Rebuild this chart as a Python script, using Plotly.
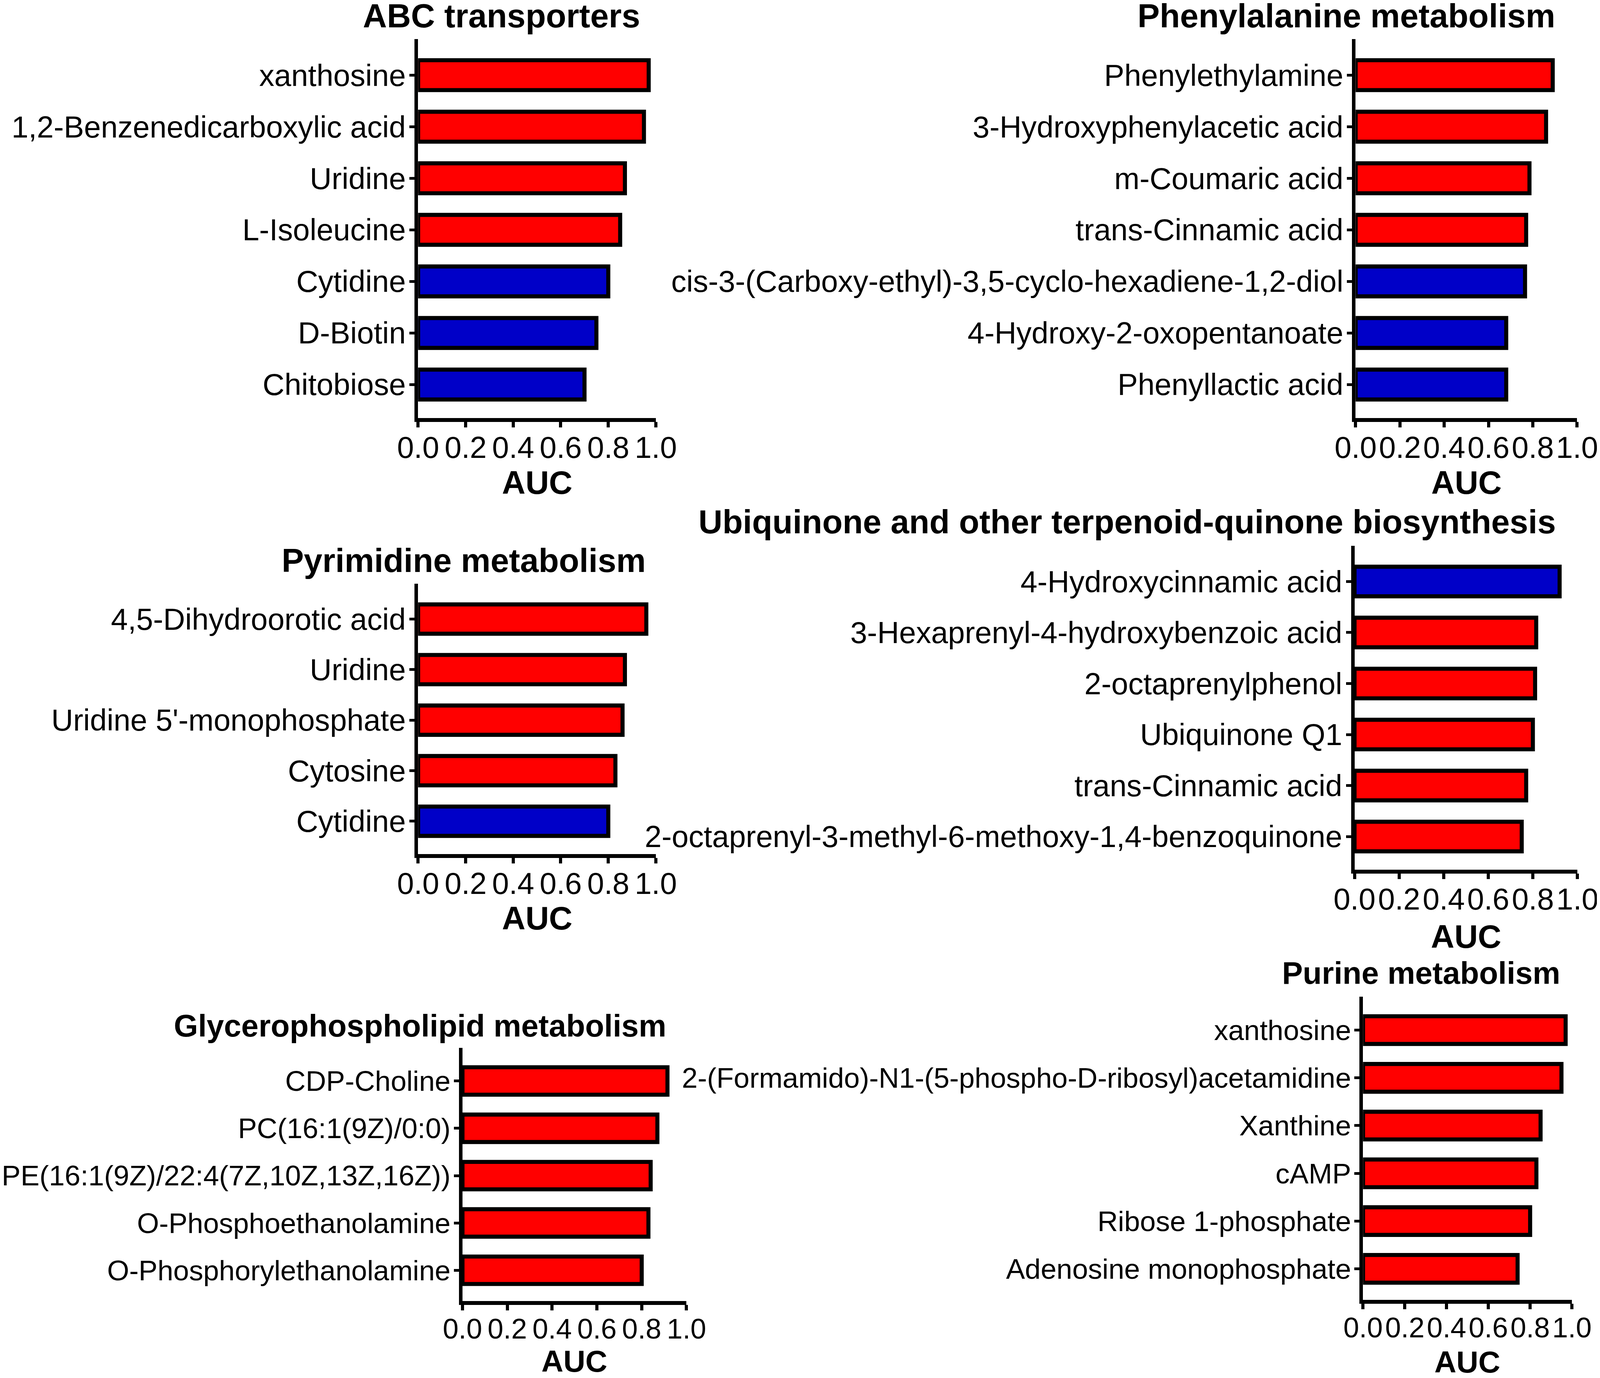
import plotly.graph_objects as go

# ---- data ----
abc_names = ["xanthosine", "1,2-Benzenedicarboxylic acid", "Uridine", "L-Isoleucine",
             "Cytidine", "D-Biotin", "Chitobiose"]
abc_auc = [0.97, 0.95, 0.87, 0.85, 0.80, 0.75, 0.70]
abc_dir = ["up", "up", "up", "up", "down", "down", "down"]

phe_names = ["Phenylethylamine", "3-Hydroxyphenylacetic acid", "m-Coumaric acid",
             "trans-Cinnamic acid", "cis-3-(Carboxy-ethyl)-3,5-cyclo-hexadiene-1,2-diol",
             "4-Hydroxy-2-oxopentanoate", "Phenyllactic acid"]
phe_auc = [0.89, 0.86, 0.785, 0.77, 0.765, 0.68, 0.68]
phe_dir = ["up", "up", "up", "up", "down", "down", "down"]

pyr_names = ["4,5-Dihydroorotic acid", "Uridine", "Uridine 5'-monophosphate",
             "Cytosine", "Cytidine"]
pyr_auc = [0.96, 0.87, 0.86, 0.83, 0.80]
pyr_dir = ["up", "up", "up", "up", "down"]

ubi_names = ["4-Hydroxycinnamic acid", "3-Hexaprenyl-4-hydroxybenzoic acid",
             "2-octaprenylphenol", "Ubiquinone Q1", "trans-Cinnamic acid",
             "2-octaprenyl-3-methyl-6-methoxy-1,4-benzoquinone"]
ubi_auc = [0.92, 0.815, 0.81, 0.80, 0.77, 0.75]
ubi_dir = ["down", "up", "up", "up", "up", "up"]

gly_names = ["CDP-Choline", "PC(16:1(9Z)/0:0)", "PE(16:1(9Z)/22:4(7Z,10Z,13Z,16Z))",
             "O-Phosphoethanolamine", "O-Phosphorylethanolamine"]
gly_auc = [0.915, 0.87, 0.84, 0.83, 0.80]
gly_dir = ["up", "up", "up", "up", "up"]

pur_names = ["xanthosine", "2-(Formamido)-N1-(5-phospho-D-ribosyl)acetamidine",
             "Xanthine", "cAMP", "Ribose 1-phosphate", "Adenosine monophosphate"]
pur_auc = [0.97, 0.95, 0.85, 0.83, 0.80, 0.74]
pur_dir = ["up", "up", "up", "up", "up", "up"]

auc_ticks = [0.0, 0.2, 0.4, 0.6, 0.8, 1.0]
auc_ticktext = ["0.0", "0.2", "0.4", "0.6", "0.8", "1.0"]

panels = [
    ("ABC transporters", abc_names, abc_auc, abc_dir),
    ("Phenylalanine metabolism", phe_names, phe_auc, phe_dir),
    ("Pyrimidine metabolism", pyr_names, pyr_auc, pyr_dir),
    ("Ubiquinone and other terpenoid-quinone biosynthesis", ubi_names, ubi_auc, ubi_dir),
    ("Glycerophospholipid metabolism", gly_names, gly_auc, gly_dir),
    ("Purine metabolism", pur_names, pur_auc, pur_dir),
]

# ---- layout ----
# page viewport is 4096 css px wide x 3527 tall; design in reference px and map
SX = 4096 / 4328
SY = 1.0
FW, FH = 4080, 3511
PAD = 8  # body margin


def px(v):
    return v * SX


def fx(p):
    return (p * SX - PAD) / FW


def fy(p):
    return 1 - (p * SY - PAD) / FH


# reference px: x0, x1, y_top, y_bottom, title_cx, title_cy, auc_cy, text scale
boxes = [
    (1131, 1774, 100, 1070, 1357, 40, 1235, 1.0),
    (3667, 4266, 100, 1070, 3642, 40, 1235, 1.0),
    (1131, 1774, 1494, 2186, 1254, 1434, 2350, 1.0),
    (3664, 4267, 1397, 2226, 3049, 1336, 2397, 1.0),
    (1251, 1857, 2682, 3330, 1136, 2625, 3484, 0.935),
    (3687, 4252, 2551, 3327, 3844, 2490, 3486, 0.935),
]
colors = {"up": "#FF0000", "down": "#0000C8"}
FONT = "Liberation Sans, Arial, sans-serif"

fig = go.Figure()
layout = {}
annotations = []
for i, ((title, names, auc, dirs), box) in enumerate(zip(panels, boxes), start=1):
    x0, x1, yt, yb, tx, ty, ay, ts = box
    n = len(names)
    xid = "x" if i == 1 else f"x{i}"
    yid = "y" if i == 1 else f"y{i}"
    sfx = "" if i == 1 else str(i)
    fig.add_trace(go.Bar(
        x=auc, y=names, orientation="h", xaxis=xid, yaxis=yid,
        width=0.58, showlegend=False,
        marker=dict(color=[colors[d] for d in dirs], line=dict(color="black", width=px(11))),
    ))
    layout["xaxis" + sfx] = dict(
        domain=[fx(x0), fx(x1)], anchor=yid, range=[0, 1], automargin=False,
        tickvals=auc_ticks, ticktext=auc_ticktext, tickangle=0,
        ticks="outside", ticklen=14 * SY, tickwidth=px(8), tickcolor="black",
        showline=True, linewidth=10 * SY, linecolor="black",
        showgrid=False, zeroline=False,
        ticklabeloverflow="allow", ticklabelstandoff=-15,
        tickfont=dict(family=FONT, size=px(82) * ts, color="black"),
    )
    layout["yaxis" + sfx] = dict(
        domain=[fy(yb), fy(yt)], anchor=xid, automargin=False,
        type="category", categoryorder="array", categoryarray=names,
        range=[n - 1 + 0.65, -0.7],
        ticks="outside", ticklen=px(14), tickwidth=7 * SY, tickcolor="black",
        showline=True, linewidth=px(9), linecolor="black",
        showgrid=False, zeroline=False, ticklabelstandoff=-6,
        ticklabeloverflow="allow",
        tickfont=dict(family=FONT, size=px(82) * ts, color="black"),
    )
    annotations.append(dict(
        text=f"<b>{title}</b>", x=fx(tx), y=fy(ty), xref="paper", yref="paper",
        xanchor="center", yanchor="middle", showarrow=False,
        font=dict(family=FONT, size=px(90) * ts, color="black"),
    ))
    annotations.append(dict(
        text="<b>AUC</b>", x=fx((x0 + x1) / 2), y=fy(ay), xref="paper", yref="paper",
        xanchor="center", yanchor="middle", showarrow=False,
        font=dict(family=FONT, size=px(88) * ts, color="black"),
    ))

fig.update_layout(
    width=FW, height=FH, margin=dict(l=0, r=0, t=0, b=0, autoexpand=False),
    paper_bgcolor="white", plot_bgcolor="white",
    annotations=annotations, **layout,
)

fig.write_html("out.html")
